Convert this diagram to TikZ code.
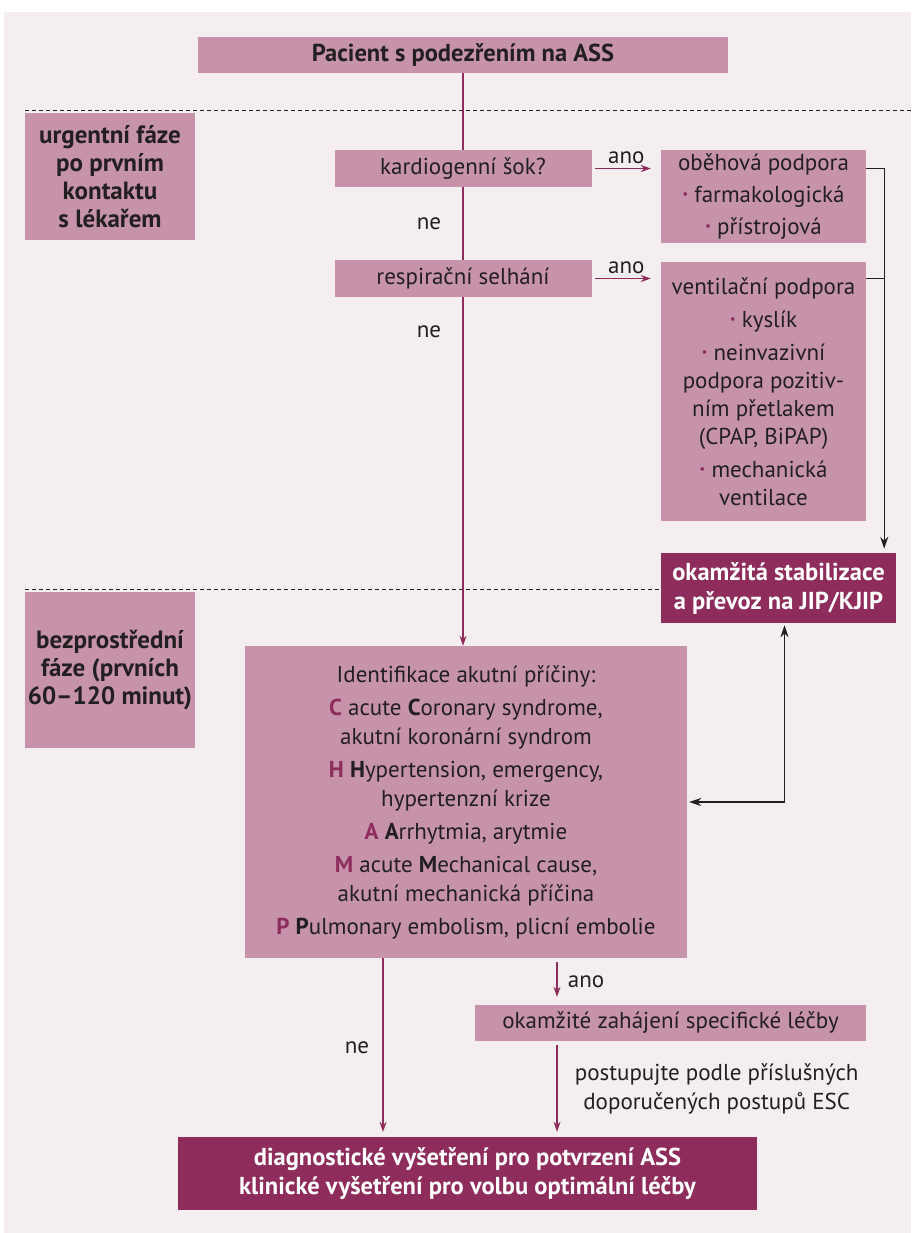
\documentclass[tikz,border=0pt]{standalone}
\usepackage{fontspec}
\setmainfont{PT Sans}
\usetikzlibrary{arrows.meta}
\definecolor{boxpink}{RGB}{198,147,171}
\definecolor{wine}{RGB}{142,44,92}
\definecolor{bgpink}{RGB}{245,238,241}
\definecolor{ink}{RGB}{35,31,32}
\newcommand{\bul}{{\color{wine}\fontsize{13}{13}\selectfont\raisebox{3.5pt}{•}}\ }
\newcommand{\acr}[1]{\textbf{\color{wine}#1}}
\tikzset{
  box/.style={fill=boxpink, text=ink, align=center, inner sep=0pt, font=\fontsize{23}{28}\selectfont},
  darkbox/.style={fill=wine, text=white, align=center, inner sep=0pt, font=\bfseries\fontsize{24.5}{29}\selectfont},
  phase/.style={box, font=\bfseries\fontsize{25}{28}\selectfont},
  lbl/.style={text=ink, font=\fontsize{23}{29}\selectfont},
  arr/.style={wine, line width=1.1pt, -{Stealth[length=10pt,width=7pt]}},
  blk/.style={ink, line width=1.3pt},
  tip/.style={-{Stealth[length=12pt,width=8pt]}},
}

\begin{document}
\begin{tikzpicture}[x=1pt,y=-1pt]
\useasboundingbox (0,0) rectangle (911,1233);
\fill[bgpink] (4,12) rectangle (911,1233);
% phase separators
\draw[ink, line width=0.8pt, dash pattern=on 4pt off 3pt] (25,110) -- (911,110);
\draw[ink, line width=0.8pt, dash pattern=on 4pt off 3pt] (25,589) -- (661,589);

\node[box, font=\bfseries\fontsize{24.5}{28}\selectfont, minimum width=530pt, minimum height=36pt] (pacient) at (463,55) {Pacient s podezřením na ASS};
\node[phase, minimum width=170pt, minimum height=127pt] (urgent) at (110,176.5) {urgentní fáze\\po prvním\\kontaktu\\s lékařem};
\node[box, minimum width=257pt, minimum height=37pt] (sok) at (463,168.5) {kardiogenní šok?};
\node[box, minimum width=205pt, minimum height=93pt] (obeh) at (763.5,196.5) {oběhová podpora\\[4pt]\bul farmakologická\\[4pt]\bul přístrojová};
\node[box, minimum width=257pt, minimum height=37pt] (resp) at (463,278.5) {respirační selhání};
\node[box, minimum width=205pt, minimum height=259pt] (vent) at (763.5,391.5) {ventilační podpora\\[5pt]\bul kyslík\\[5pt]\bul neinvazivní\\podpora pozitiv-\\ním přetlakem\\(CPAP, BiPAP)\\[5pt]\bul mechanická\\ventilace};
\node[darkbox, minimum width=235pt, minimum height=70pt] (stab) at (778.5,588) {okamžitá stabilizace\\a převoz na JIP/KJIP};
\node[phase, minimum width=170pt, minimum height=156pt] (bezpr) at (110,670) {bezprostřední\\fáze (prvních\\60–120 minut)};
\node[box, font=\fontsize{23}{29}\selectfont, minimum width=442pt, minimum height=312pt] (ident) at (466,802) {Identifikace akutní příčiny:\\[4pt]
  \acr{C} acute \textbf{C}oronary syndrome,\\akutní koronární syndrom\\[4pt]
  \acr{H} \textbf{H}ypertension, emergency,\\hypertenzní krize\\[4pt]
  \acr{A} \textbf{A}rrhytmia, arytmie\\[4pt]
  \acr{M} acute \textbf{M}echanical cause,\\akutní mechanická příčina\\[4pt]
  \acr{P} \textbf{P}ulmonary embolism, plicní embolie};
\node[box, minimum width=391pt, minimum height=36pt] (spec) at (670.5,1023) {okamžité zahájení specifické léčby};
\node[darkbox, minimum width=579pt, minimum height=73pt] (diag) at (467.5,1173.5) {diagnostické vyšetření pro potvrzení ASS\\klinické vyšetření pro volbu optimální léčby};

% main axis
\draw[wine, line width=1.1pt] (pacient) -- (sok);
\draw[wine, line width=1.1pt] (sok) -- (resp) node[midway, left=18pt, lbl] {ne};
\draw[arr] (resp) -- (resp |- ident.north) node[pos=0.1, left=18pt, lbl] {ne};
\draw[arr, shorten <=3pt, shorten >=10pt] (sok.east) -- (sok.east -| obeh.west) node[midway, above=1pt, lbl] {ano};
\draw[arr, shorten <=3pt, shorten >=10pt] (resp.east) -- (resp.east -| vent.west) node[midway, above=1pt, lbl] {ano};

% to stabilization
\draw[blk, tip, shorten >=4pt] (obeh.east |- sok) -| ([xshift=-12pt]stab.north east);
\draw[blk] (vent.east |- resp) -- ([xshift=-12pt]stab.north east |- resp);
\draw[blk, {Stealth[length=12pt,width=8pt]}-{Stealth[length=12pt,width=8pt]}, shorten <=2pt, shorten >=2pt] ([xshift=6pt]stab.south) |- (ident.east);

% bottom
\draw[arr, shorten >=5pt] ([xshift=-83pt]ident.south) -- ([xshift=-83pt]ident.south |- diag.north) node[midway, left=10pt, lbl] {ne};
\draw[arr, shorten <=4pt, shorten >=8pt] ([xshift=91pt]ident.south) -- ([xshift=91pt]ident.south |- spec.north) node[midway, right=7pt, lbl] {ano};
\draw[arr, shorten <=4pt, shorten >=5pt] ([xshift=91pt]ident.south |- spec.south) -- ([xshift=91pt]ident.south |- diag.north) node[midway, right=14pt, lbl, align=center] {postupujte podle příslušných\\doporučených postupů ESC};
\end{tikzpicture}
\end{document}
